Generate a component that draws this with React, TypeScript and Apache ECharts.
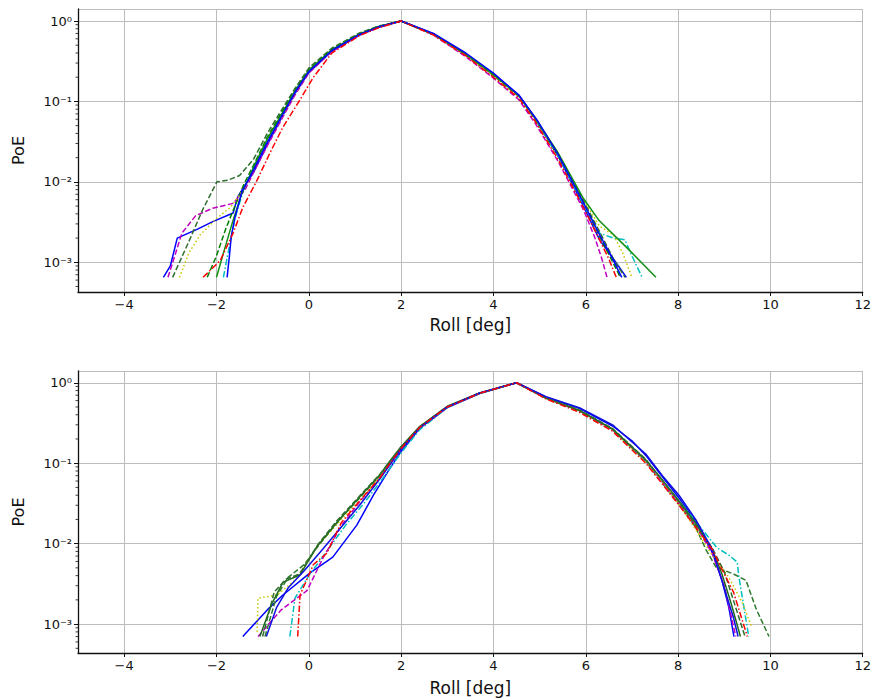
import React, { useEffect, useRef } from "react";
import * as echarts from "echarts";

// ---------------- data (x = roll [deg], y = PoE) ----------------
// top panel
const TOP_BLUE_A = [[-3.15,0.00065],[-3.0,0.0009],[-2.85,0.002],[-2.4,0.0026],[-2.08,0.0032],[-1.64,0.0041],[-1.54,0.0065],[-1.4,0.0088],[-1.2,0.013],[-0.9,0.029],[-0.55,0.069],[-0.3,0.125],[0.0,0.23],[0.5,0.42],[1.1,0.67],[1.5,0.83],[2.0,1.0],[2.7,0.69],[3.4,0.39],[4.0,0.22],[4.55,0.12],[4.9,0.062],[5.4,0.021],[5.95,0.005],[6.3,0.0019],[6.6,0.0011],[6.88,0.00065]];
const TOP_BLUE_B = [[-1.77,0.00065],[-1.72,0.0012],[-1.68,0.0021],[-1.6,0.0036],[-1.45,0.0075],[-1.2,0.014],[-0.9,0.031],[-0.55,0.072],[-0.3,0.13],[0.0,0.235],[0.5,0.43],[1.1,0.68],[1.5,0.84],[2.0,1.0],[2.7,0.7],[3.4,0.4],[4.0,0.225],[4.55,0.12],[4.95,0.058],[5.4,0.022],[5.95,0.0055],[6.3,0.0022],[6.55,0.0012],[6.78,0.00065]];
const TOP_GREEN_DASH = [[-2.2,0.00065],[-2.0,0.0012],[-1.8,0.0026],[-1.6,0.005],[-1.4,0.0095],[-1.2,0.016],[-0.9,0.036],[-0.55,0.08],[-0.3,0.14],[0.0,0.25],[0.5,0.45],[1.1,0.7],[1.5,0.85],[2.0,1.0],[2.7,0.68],[3.4,0.38],[4.0,0.21],[4.55,0.115],[4.9,0.06],[5.4,0.021],[5.95,0.0055],[6.3,0.0021],[6.55,0.0011],[6.75,0.00065]];
const TOP_DKGREEN_DASH = [[-2.95,0.00065],[-2.6,0.0018],[-2.3,0.0045],[-1.99,0.01],[-1.75,0.0105],[-1.5,0.012],[-1.2,0.019],[-0.9,0.04],[-0.55,0.085],[-0.3,0.145],[0.0,0.26],[0.5,0.46],[1.1,0.71],[1.5,0.86],[2.0,1.0],[2.7,0.69],[3.4,0.39],[4.0,0.215],[4.55,0.118],[4.9,0.062],[5.4,0.022],[5.95,0.0058],[6.3,0.0024],[6.6,0.0011],[6.85,0.00065]];
const TOP_RED_DASHDOT = [[-2.29,0.00065],[-1.92,0.00105],[-1.64,0.0023],[-1.43,0.0048],[-1.12,0.0105],[-0.84,0.023],[-0.56,0.048],[-0.19,0.105],[0.1,0.2],[0.5,0.4],[1.1,0.66],[1.5,0.82],[2.0,1.0],[2.7,0.67],[3.4,0.37],[4.0,0.2],[4.55,0.11],[4.9,0.057],[5.4,0.019],[5.95,0.0048],[6.3,0.0019],[6.5,0.0011],[6.66,0.00065]];
const TOP_CYAN_DASHDOT = [[-1.85,0.00065],[-1.75,0.0013],[-1.6,0.0035],[-1.4,0.0085],[-1.2,0.015],[-0.9,0.033],[-0.55,0.075],[-0.3,0.13],[0.0,0.24],[0.5,0.43],[1.1,0.68],[1.5,0.84],[2.0,1.0],[2.7,0.69],[3.4,0.39],[4.0,0.215],[4.55,0.117],[4.9,0.06],[5.4,0.021],[5.95,0.0052],[6.3,0.0023],[6.6,0.002],[6.85,0.0019],[7.0,0.0012],[7.22,0.00065]];
const TOP_MAGENTA_DASH = [[-3.05,0.00065],[-2.75,0.0023],[-2.45,0.0038],[-2.08,0.0047],[-1.64,0.0054],[-1.38,0.008],[-1.2,0.013],[-0.9,0.028],[-0.55,0.066],[-0.3,0.12],[0.0,0.225],[0.5,0.42],[1.1,0.67],[1.5,0.83],[2.0,1.0],[2.7,0.67],[3.4,0.36],[4.0,0.195],[4.55,0.105],[4.9,0.054],[5.4,0.018],[5.95,0.0045],[6.2,0.002],[6.35,0.0011],[6.46,0.00065]];
const TOP_YELLOW_DOT = [[-2.8,0.00065],[-2.6,0.0013],[-2.35,0.0022],[-2.0,0.0035],[-1.7,0.0048],[-1.45,0.0075],[-1.2,0.014],[-0.9,0.031],[-0.55,0.07],[-0.3,0.128],[0.0,0.235],[0.5,0.43],[1.1,0.68],[1.5,0.84],[2.0,1.0],[2.7,0.685],[3.4,0.385],[4.0,0.21],[4.55,0.115],[4.9,0.061],[5.4,0.022],[5.95,0.006],[6.3,0.0028],[6.6,0.0022],[6.8,0.0013],[7.0,0.00065]];
const TOP_GREEN_SOLID = [[-2.0,0.00065],[-1.85,0.0013],[-1.65,0.0032],[-1.45,0.0072],[-1.2,0.015],[-0.9,0.034],[-0.55,0.076],[-0.3,0.135],[0.0,0.245],[0.5,0.44],[1.1,0.69],[1.5,0.85],[2.0,1.0],[2.7,0.685],[3.4,0.385],[4.0,0.215],[4.55,0.118],[4.9,0.063],[5.4,0.023],[5.95,0.0062],[6.29,0.0033],[6.9,0.0015],[7.52,0.00065]];

// bottom panel
const BOT_BLUE_A = [[-1.43,0.0007],[-0.9,0.0015],[-0.56,0.0023],[0.02,0.0043],[0.52,0.0068],[1.04,0.017],[1.4,0.04],[1.75,0.085],[2.0,0.14],[2.4,0.27],[3.0,0.49],[3.7,0.735],[4.5,1.0],[5.14,0.66],[5.86,0.48],[6.58,0.29],[7.0,0.19],[7.3,0.125],[7.66,0.068],[8.02,0.037],[8.38,0.019],[8.74,0.0078],[8.95,0.0035],[9.1,0.0016],[9.21,0.0007]];
const BOT_BLUE_B = [[-0.92,0.0007],[-0.7,0.0016],[-0.45,0.0028],[-0.1,0.0046],[0.3,0.0085],[0.7,0.016],[1.1,0.03],[1.54,0.064],[2.0,0.15],[2.4,0.275],[3.0,0.5],[3.7,0.745],[4.5,1.0],[5.14,0.67],[5.86,0.49],[6.58,0.3],[7.3,0.13],[7.66,0.07],[8.02,0.04],[8.38,0.02],[8.74,0.0085],[9.0,0.0028],[9.2,0.0012],[9.3,0.0007]];
const BOT_DKGREEN_SOLID = [[-1.06,0.0007],[-0.8,0.0018],[-0.56,0.0033],[-0.19,0.0041],[0.17,0.0091],[0.6,0.018],[1.1,0.038],[1.54,0.072],[1.75,0.105],[2.0,0.16],[2.4,0.285],[3.0,0.51],[3.7,0.745],[4.5,1.0],[5.14,0.64],[5.86,0.45],[6.58,0.265],[7.3,0.11],[7.66,0.062],[8.02,0.034],[8.38,0.018],[8.74,0.0085],[8.95,0.0042],[9.15,0.0018],[9.35,0.0007]];
const BOT_GREEN_DASH = [[-0.95,0.0007],[-0.7,0.0022],[-0.45,0.0038],[-0.1,0.0055],[0.3,0.011],[0.7,0.021],[1.1,0.037],[1.54,0.07],[1.75,0.102],[2.0,0.158],[2.4,0.28],[3.0,0.5],[3.7,0.74],[4.5,1.0],[5.14,0.645],[5.86,0.455],[6.58,0.265],[7.3,0.105],[7.66,0.056],[8.02,0.031],[8.38,0.016],[8.6,0.0085],[8.82,0.0051],[9.2,0.0042],[9.47,0.0035],[9.7,0.0015],[9.97,0.0007]];
const BOT_RED_DASHDOT = [[-0.24,0.0007],[-0.19,0.0023],[0.1,0.0055],[0.39,0.0076],[0.7,0.018],[1.1,0.034],[1.54,0.066],[1.75,0.098],[2.0,0.152],[2.4,0.278],[3.0,0.5],[3.7,0.74],[4.5,1.0],[5.14,0.63],[5.86,0.43],[6.58,0.25],[7.3,0.1],[7.66,0.055],[8.02,0.03],[8.38,0.016],[8.74,0.0085],[8.95,0.0048],[9.2,0.0025],[9.5,0.0007]];
const BOT_CYAN_DASHDOT = [[-0.41,0.0007],[-0.3,0.0021],[0.0,0.004],[0.4,0.0082],[0.8,0.017],[1.2,0.032],[1.54,0.058],[1.75,0.085],[2.0,0.135],[2.4,0.26],[3.0,0.49],[3.7,0.735],[4.5,1.0],[5.14,0.64],[5.86,0.44],[6.58,0.255],[7.3,0.105],[7.66,0.058],[8.02,0.034],[8.38,0.019],[8.84,0.0089],[9.1,0.0072],[9.28,0.0059],[9.32,0.0038],[9.53,0.0007]];
const BOT_MAGENTA_DASH = [[-1.1,0.0007],[-0.6,0.0015],[-0.04,0.0026],[0.3,0.0065],[0.7,0.0165],[1.1,0.033],[1.54,0.065],[1.75,0.097],[2.0,0.15],[2.4,0.275],[3.0,0.495],[3.7,0.74],[4.5,1.0],[5.14,0.645],[5.86,0.45],[6.58,0.26],[7.3,0.108],[7.66,0.058],[8.02,0.032],[8.38,0.017],[8.74,0.0075],[9.0,0.003],[9.25,0.0007]];
const BOT_YELLOW_DOT = [[-1.12,0.0008],[-1.1,0.0021],[-0.69,0.0023],[-0.3,0.0035],[0.2,0.0095],[0.67,0.019],[1.1,0.034],[1.54,0.067],[1.75,0.099],[2.0,0.153],[2.4,0.28],[3.0,0.5],[3.7,0.74],[4.5,1.0],[5.14,0.645],[5.86,0.45],[6.58,0.26],[7.3,0.105],[7.66,0.057],[8.02,0.031],[8.38,0.015],[8.74,0.0072],[9.1,0.0038],[9.4,0.0018],[9.6,0.0009]];
const BOT_DKGREEN_DASH = [[-1.0,0.0007],[-0.75,0.0025],[-0.5,0.0036],[-0.2,0.0042],[0.2,0.0098],[0.6,0.019],[1.1,0.039],[1.54,0.073],[1.75,0.104],[2.0,0.16],[2.4,0.283],[3.0,0.505],[3.7,0.745],[4.5,1.0],[5.14,0.65],[5.86,0.46],[6.58,0.27],[7.3,0.112],[7.66,0.061],[8.02,0.033],[8.38,0.017],[8.74,0.0088],[9.0,0.0045],[9.25,0.0016],[9.45,0.0007]];

// axis ticks
const X_MIN = -5;
const X_MAX = 12;
const X_STEP = 2;
const TOP_Y_MIN = 0.000427;
const TOP_Y_MAX = 1.41;
const BOT_Y_MIN = 0.000437;
const BOT_Y_MAX = 1.40;
const MINOR_Y = [0.0005,0.0006,0.0007,0.0008,0.0009,0.002,0.003,0.004,0.005,0.006,0.007,0.008,0.009,0.02,0.03,0.04,0.05,0.06,0.07,0.08,0.09,0.2,0.3,0.4,0.5,0.6,0.7,0.8,0.9];
const X_LABEL = "Roll [deg]";
const Y_LABEL = "PoE";

// ---------------- styles ----------------
const DASH = {
  solid: "solid",
  dashed: [5.5, 2.4],
  dashdot: [6.4, 2.2, 1.5, 2.2],
  dotted: [1.5, 2.4],
};

const TOP_SERIES = [
  { data: TOP_BLUE_A, color: "#0000ff", dash: DASH.solid },
  { data: TOP_GREEN_DASH, color: "#008000", dash: DASH.dashed },
  { data: TOP_CYAN_DASHDOT, color: "#00bfbf", dash: DASH.dashdot },
  { data: TOP_MAGENTA_DASH, color: "#bf00bf", dash: DASH.dashed },
  { data: TOP_YELLOW_DOT, color: "#c8c800", dash: DASH.dotted },
  { data: TOP_DKGREEN_DASH, color: "#2e6e2e", dash: DASH.dashed },
  { data: TOP_GREEN_SOLID, color: "#119011", dash: DASH.solid },
  { data: TOP_BLUE_B, color: "#0000ff", dash: DASH.solid },
  { data: TOP_RED_DASHDOT, color: "#ff0000", dash: DASH.dashdot },
];

const BOT_SERIES = [
  { data: BOT_BLUE_A, color: "#0000ff", dash: DASH.solid },
  { data: BOT_GREEN_DASH, color: "#2e7a2e", dash: DASH.dashed },
  { data: BOT_CYAN_DASHDOT, color: "#00bfbf", dash: DASH.dashdot },
  { data: BOT_MAGENTA_DASH, color: "#bf00bf", dash: DASH.dashed },
  { data: BOT_YELLOW_DOT, color: "#c8c800", dash: DASH.dotted },
  { data: BOT_DKGREEN_SOLID, color: "#1f6a1f", dash: DASH.solid },
  { data: BOT_DKGREEN_DASH, color: "#2e6e2e", dash: DASH.dashed },
  { data: BOT_BLUE_B, color: "#1010e0", dash: DASH.solid },
  { data: BOT_RED_DASHDOT, color: "#ff0000", dash: DASH.dashdot },
];

const FONT = "DejaVu Sans";
const SUP: Record<string, string> = { "-": "\u207B", "0": "\u2070", "1": "\u00B9", "2": "\u00B2", "3": "\u00B3", "4": "\u2074", "5": "\u2075" };
const fmtPow = (v: number) => {
  const e = Math.round(Math.log10(v));
  return "10" + String(e).split("").map((c) => SUP[c] || c).join("");
};

const GRID_COLOR = "#bcbcbc";

function xAxis(gridIndex: number) {
  return {
    type: "value",
    gridIndex,
    min: X_MIN,
    max: X_MAX,
    minInterval: X_STEP,
    maxInterval: X_STEP,
    splitNumber: 8,
    name: X_LABEL,
    nameLocation: "middle",
    nameGap: gridIndex === 0 ? 24 : 26,
    nameTextStyle: { fontFamily: FONT, fontSize: 17, color: "#111" },
    axisLine: { show: true, onZero: false, lineStyle: { color: "#111", width: 1.3 } },
    axisTick: { show: true, length: 4, lineStyle: { color: "#111", width: 1 } },
    axisLabel: {
      showMinLabel: false,
      margin: 6,
      fontFamily: FONT,
      fontSize: 13,
      color: "#111",
      formatter: (v: number) => (v < 0 ? "\u2212" + Math.abs(v) : String(v)),
    },
    splitLine: { show: true, lineStyle: { color: GRID_COLOR, width: 1 } },
  };
}

function yAxis(gridIndex: number, min: number, max: number) {
  return {
    type: "log",
    logBase: 10,
    gridIndex,
    min,
    max,
    name: Y_LABEL,
    nameLocation: "middle",
    nameGap: 52,
    nameRotate: 90,
    nameTextStyle: { fontFamily: FONT, fontSize: 16, color: "#111" },
    axisLine: { show: true, onZero: false, lineStyle: { color: "#111", width: 1.3 } },
    axisTick: { show: true, length: 4, lineStyle: { color: "#111", width: 1 } },
    axisLabel: {
      showMinLabel: false,
      showMaxLabel: false,
      margin: 6,
      fontFamily: FONT,
      fontSize: 13,
      color: "#111",
      formatter: fmtPow,
    },
    splitLine: { show: true, lineStyle: { color: GRID_COLOR, width: 1 } },
  };
}

function minorTicks(idx: number) {
  return {
    type: "custom",
    xAxisIndex: idx,
    yAxisIndex: idx,
    silent: true,
    z: 10,
    data: MINOR_Y.map((v) => [X_MIN, v]),
    renderItem: (_p: any, api: any) => {
      const p = api.coord([api.value(0), api.value(1)]);
      return {
        type: "line",
        shape: { x1: p[0] - 2.5, y1: p[1], x2: p[0], y2: p[1] },
        style: { stroke: "#111", lineWidth: 0.8 },
      };
    },
  };
}

function lineSeries(list: any[], idx: number) {
  return list.map((s) => ({
    type: "line",
    xAxisIndex: idx,
    yAxisIndex: idx,
    data: s.data,
    showSymbol: false,
    symbol: "none",
    smooth: false,
    clip: true,
    lineStyle: { color: s.color, width: 1.5, type: s.dash },
    itemStyle: { color: s.color },
  }));
}

export default function App() {
  const ref = useRef<HTMLDivElement>(null);
  useEffect(() => {
    if (!ref.current) return;
    const chart = echarts.init(ref.current, undefined, { renderer: "svg" });
    chart.setOption({
      animation: false,
      backgroundColor: "#ffffff",
      textStyle: { fontFamily: FONT },
      grid: [
        { left: 78, top: 9, width: 786, height: 283 },
        { left: 78, top: 371, width: 786, height: 282 },
      ],
      xAxis: [xAxis(0), xAxis(1)],
      yAxis: [yAxis(0, TOP_Y_MIN, TOP_Y_MAX), yAxis(1, BOT_Y_MIN, BOT_Y_MAX)],
      series: [
        ...lineSeries(TOP_SERIES, 0),
        ...lineSeries(BOT_SERIES, 1),
        minorTicks(0),
        minorTicks(1),
      ],
    });
    return () => chart.dispose();
  }, []);
  return (
    <div
      ref={ref}
      style={{ position: "fixed", left: 0, top: 0, width: 874, height: 699, background: "#fff" }}
    />
  );
}
